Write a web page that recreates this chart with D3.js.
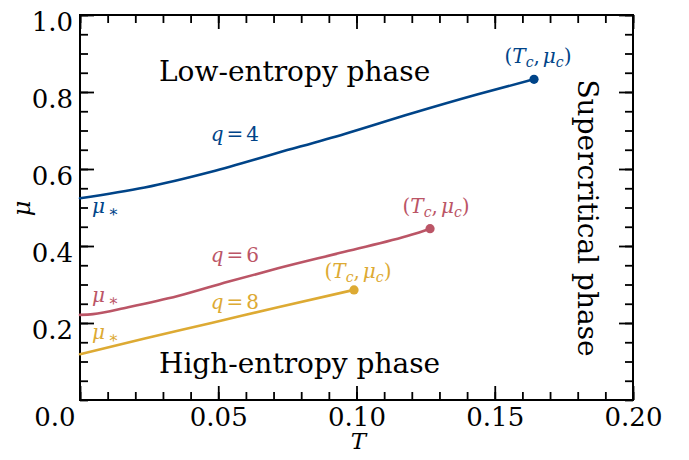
<!DOCTYPE html>
<html>
<head>
<meta charset="utf-8">
<script src="https://cdn.jsdelivr.net/npm/d3@7"></script>
<style>
  body { margin: 0; background: #fff; }
  svg { display: block; }
</style>
</head>
<body>
<svg id="chart" width="689" height="460"></svg>
<script>
// ---- data -------------------------------------------------------------
const xTicks = [0, 0.05, 0.10, 0.15, 0.20];
const xTickLabels = ["0.0", "0.05", "0.10", "0.15", "0.20"];
const yTicks = [0.2, 0.4, 0.6, 0.8, 1.0];
const yTickLabels = ["0.2", "0.4", "0.6", "0.8", "1.0"];

const qValues = [4, 6, 8];
const seriesColors = ["#004488", "#BB5566", "#DDAA33"];

// transition lines mu(T) for each q
const T_q4  = [0, 0.0234, 0.0475, 0.0716, 0.0957, 0.1198, 0.1439, 0.1642];
const mu_q4 = [0.524, 0.552, 0.593, 0.642, 0.691, 0.744, 0.794, 0.833];

const T_q6  = [0, 0.0047, 0.0174, 0.0354, 0.0535, 0.0716, 0.0957, 0.1198, 0.1266];
const mu_q6 = [0.221, 0.223, 0.241, 0.270, 0.307, 0.342, 0.385, 0.429, 0.445];

const T_q8  = [0, 0.0234, 0.0475, 0.0716, 0.0991];
const mu_q8 = [0.119, 0.160, 0.200, 0.241, 0.286];

// critical end points (T_c, mu_c)
const criticalT  = [0.1642, 0.1266, 0.0991];
const criticalMu = [0.833, 0.445, 0.286];

const phaseLabels = ["Low-entropy phase", "High-entropy phase", "Supercritical phase"];

// ---- layout -----------------------------------------------------------
const W = 689, H = 460;
const plot = { left: 80, right: 633, top: 15, bottom: 400 };
const serif = "'DejaVu Serif', serif";
const mathFont = "'DejaVu Serif', serif";

const svg = d3.select("#chart");
svg.append("rect").attr("width", W).attr("height", H).attr("fill", "#fff");

const x = d3.scaleLinear().domain([0, 0.2]).range([plot.left, plot.right]);
const y = d3.scaleLinear().domain([0, 1]).range([plot.bottom, plot.top]);

const minorX = d3.range(0, 0.2001, 0.01);
const minorY = d3.range(0, 1.0001, 0.05);

const majorLen = 14, minorLen = 8;

function styleAxis(g) {
  g.select(".domain").remove();
  g.selectAll(".tick line").attr("stroke", "#000").attr("stroke-width", 1.8);
}

// minor ticks on all four sides (pointing inward)
svg.append("g").attr("transform", `translate(0,${plot.bottom})`)
  .call(d3.axisBottom(x).tickValues(minorX).tickSize(-minorLen).tickFormat(""))
  .call(styleAxis);
svg.append("g").attr("transform", `translate(0,${plot.top})`)
  .call(d3.axisTop(x).tickValues(minorX).tickSize(-minorLen).tickFormat(""))
  .call(styleAxis);
svg.append("g").attr("transform", `translate(${plot.left},0)`)
  .call(d3.axisLeft(y).tickValues(minorY).tickSize(-minorLen).tickFormat(""))
  .call(styleAxis);
svg.append("g").attr("transform", `translate(${plot.right},0)`)
  .call(d3.axisRight(y).tickValues(minorY).tickSize(-minorLen).tickFormat(""))
  .call(styleAxis);

// major ticks
const xAxis = svg.append("g").attr("transform", `translate(0,${plot.bottom})`)
  .call(d3.axisBottom(x).tickValues(xTicks).tickSize(-majorLen)
        .tickFormat((d, i) => xTickLabels[i]))
  .call(styleAxis);
xAxis.selectAll(".tick text")
  .attr("dy", null).attr("y", 26)
  .attr("font-family", serif).attr("font-size", 26).attr("fill", "#000");
// the origin label sits left of the corner
xAxis.selectAll(".tick text").filter((d, i) => i === 0)
  .attr("text-anchor", "end").attr("x", -5);

svg.append("g").attr("transform", `translate(0,${plot.top})`)
  .call(d3.axisTop(x).tickValues(xTicks).tickSize(-majorLen).tickFormat(""))
  .call(styleAxis);

const yAxis = svg.append("g").attr("transform", `translate(${plot.left},0)`)
  .call(d3.axisLeft(y).tickValues(yTicks).tickSize(-majorLen)
        .tickFormat((d, i) => yTickLabels[i]))
  .call(styleAxis);
yAxis.selectAll(".tick text")
  .attr("dy", null).attr("x", -7).attr("y", 15)
  .attr("font-family", serif).attr("font-size", 26).attr("fill", "#000");

svg.append("g").attr("transform", `translate(${plot.right},0)`)
  .call(d3.axisRight(y).tickValues(yTicks).tickSize(-majorLen).tickFormat(""))
  .call(styleAxis);

// frame
svg.append("rect")
  .attr("x", plot.left).attr("y", plot.top)
  .attr("width", plot.right - plot.left).attr("height", plot.bottom - plot.top)
  .attr("fill", "none").attr("stroke", "#000").attr("stroke-width", 2);

// ---- curves -------------------------------------------------------------
const series = [
  { T: T_q4, mu: mu_q4 },
  { T: T_q6, mu: mu_q6 },
  { T: T_q8, mu: mu_q8 }
];

const line = d3.line().x(d => x(d[0])).y(d => y(d[1])).curve(d3.curveMonotoneX);

series.forEach((s, i) => {
  const pts = s.T.map((t, k) => [t, s.mu[k]]);
  svg.append("path")
    .attr("d", line(pts))
    .attr("fill", "none")
    .attr("stroke", seriesColors[i])
    .attr("stroke-width", 2.6)
    .attr("stroke-linecap", "round");
  svg.append("circle")
    .attr("cx", x(criticalT[i])).attr("cy", y(criticalMu[i]))
    .attr("r", 4.6).attr("fill", seriesColors[i]);
});

// ---- math-style labels -------------------------------------------------
function mathText(g, parts, size) {
  const t = g.append("text").attr("font-family", mathFont).style("font-size", size + "px");
  parts.forEach(p => {
    const ts = t.append("tspan").text(p.s);
    if (p.it) ts.attr("font-style", "italic");
    if (p.sub) ts.style("font-size", (size * (p.scale || 0.7)) + "px");
    if (p.dy) ts.attr("dy", p.dy);
    if (p.dx) ts.attr("dx", p.dx);
  });
  return t;
}

const mathSize = 20;

// q labels
const qLabelPos = [[0.056, 0.673], [0.056, 0.359], [0.056, 0.236]];
qValues.forEach((q, i) => {
  mathText(svg, [
    { s: "q", it: true },
    { s: "=", dx: 3 },
    { s: String(q), dx: 3 }
  ], mathSize)
    .attr("x", x(qLabelPos[i][0])).attr("y", y(qLabelPos[i][1]))
    .attr("text-anchor", "middle").attr("fill", seriesColors[i]);
});

// (T_c, mu_c) labels above the end points
const critOffset = [[4, -16], [6, -16], [4, -12]];
qValues.forEach((q, i) => {
  mathText(svg, [
    { s: "(" },
    { s: "T", it: true },
    { s: "c", it: true, sub: true, dy: 4 },
    { s: ",", dy: -4 },
    { s: "μ", it: true, dx: 3 },
    { s: "c", it: true, sub: true, dy: 4 },
    { s: ")", dy: -4 }
  ], mathSize)
    .attr("x", x(criticalT[i]) + critOffset[i][0])
    .attr("y", y(criticalMu[i]) + critOffset[i][1])
    .attr("text-anchor", "middle").attr("fill", seriesColors[i]);
});

// mu_* labels near the T = 0 intercepts
const muStarOffset = [15, -13, -15];
series.forEach((s, i) => {
  mathText(svg, [
    { s: "μ", it: true },
    { s: "∗", sub: true, scale: 0.8, dy: 4, dx: 3 }
  ], mathSize)
    .attr("x", x(0) + 12)
    .attr("y", y(s.mu[0]) + muStarOffset[i])
    .attr("fill", seriesColors[i]);
});

// ---- phase labels -------------------------------------------------------
const phaseSize = 28;
svg.append("text").text(phaseLabels[0])
  .attr("x", 159).attr("y", 81)
  .attr("font-family", serif).attr("font-size", phaseSize).attr("fill", "#000");
svg.append("text").text(phaseLabels[1])
  .attr("x", 159).attr("y", 373)
  .attr("font-family", serif).attr("font-size", phaseSize).attr("fill", "#000");
svg.append("text").text(phaseLabels[2])
  .attr("transform", "translate(578,218) rotate(90)")
  .attr("text-anchor", "middle")
  .attr("font-family", serif).attr("font-size", phaseSize).attr("fill", "#000");

// ---- axis titles --------------------------------------------------------
mathText(svg, [{ s: "T", it: true }], 23)
  .attr("x", (plot.left + plot.right) / 2 + 2).attr("y", 449)
  .attr("text-anchor", "middle").attr("fill", "#000");
mathText(svg, [{ s: "μ", it: true }], 24)
  .attr("transform", `translate(30,${(plot.top + plot.bottom) / 2 + 1}) rotate(-90)`)
  .attr("text-anchor", "middle").attr("fill", "#000");
</script>
</body>
</html>
